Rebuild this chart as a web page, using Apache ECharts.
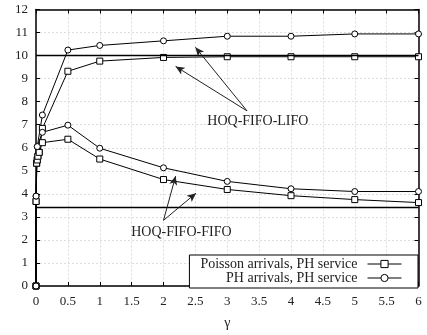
<!DOCTYPE html>
<html>
<head>
<meta charset="utf-8">
<script src="https://cdn.jsdelivr.net/npm/echarts@6/dist/echarts.min.js"></script>
<style>html,body{margin:0;padding:0;background:#fff}#c{width:427px;height:335px}</style>
</head>
<body>
<div id="c"></div>
<script>
// gamma values
const xPoisson = [0, 0.001, 0.01, 0.02, 0.03, 0.05, 0.1, 0.5, 1, 2, 3, 4, 5, 6];
const xPH = [0, 0.001, 0.02, 0.1, 0.5, 1, 2, 3, 4, 5, 6];
// HOQ-FIFO-FIFO
const poissonFifo = [0, 3.67, 5.33, 5.47, 5.63, 5.8, 6.22, 6.37, 5.51, 4.62, 4.19, 3.92, 3.75, 3.62];
const phFifo = [0, 3.9, 6.05, 6.67, 6.98, 5.98, 5.13, 4.54, 4.22, 4.10, 4.10];
// HOQ-FIFO-LIFO
const poissonLifo = [0, 3.67, 5.33, 5.47, 5.63, 5.8, 6.84, 9.32, 9.76, 9.92, 9.95, 9.95, 9.95, 9.95];
const phLifo = [0, 3.9, 6.05, 7.42, 10.24, 10.44, 10.64, 10.84, 10.84, 10.94, 10.94];
// reference levels
const refLevels = [10, 3.4];
const xTicks = { min: 0, max: 6, interval: 0.5 };
const yTicks = { min: 0, max: 12, interval: 1 };
// annotations (data space)
const lifoLabel = { text: 'HOQ-FIFO-LIFO', at: [3.48, 7.13], from: [3.31, 7.6], to: [[2.5, 10.36], [2.19, 9.53]] };
const fifoLabel = { text: 'HOQ-FIFO-FIFO', at: [2.28, 2.32], from: [2.0, 2.85], to: [[2.19, 4.77], [2.51, 4.03]] };
const names = ['Poisson arrivals, PH service', 'PH arrivals, PH service'];

const font = 'Liberation Serif';
const zip = (xs, ys) => xs.map((x, i) => [x, ys[i]]);

function mkSeries(name, xs, ys, sym, size) {
  return {
    name, type: 'line', data: zip(xs, ys), symbol: sym, symbolSize: size,
    showAllSymbol: true,
    lineStyle: { color: '#000', width: 1 },
    itemStyle: { color: '#fff', borderColor: '#000', borderWidth: 1 },
    emphasis: { disabled: true }, animation: false, z: 3
  };
}

const arrowLines = [lifoLabel, fifoLabel].flatMap(a => a.to.map(t => [{ coord: a.from }, { coord: t }]));

const series = [
  mkSeries(names[0], xPoisson, poissonFifo, 'rect', 6),
  mkSeries(names[0], xPoisson, poissonLifo, 'rect', 6),
  mkSeries(names[1], xPH, phFifo, 'circle', 6),
  mkSeries(names[1], xPH, phLifo, 'circle', 6),
  {
    type: 'line', data: [], silent: true, animation: false,
    markLine: {
      silent: true, animation: false, symbol: ['none', 'none'],
      lineStyle: { color: '#000', width: 1.3, type: 'solid' }, label: { show: false },
      data: refLevels.map(v => ({ yAxis: v }))
    }
  },
  {
    type: 'line', data: [], silent: true, animation: false,
    markLine: {
      silent: true, animation: false, symbol: ['none', 'arrow'], symbolSize: [6, 9],
      lineStyle: { color: '#222', width: 1, type: 'solid' }, label: { show: false },
      data: arrowLines
    },
    markPoint: {
      silent: true, animation: false, symbol: 'circle', symbolSize: 0,
      label: { show: true, position: 'inside', color: '#222', fontFamily: font, fontSize: 14 },
      data: [lifoLabel, fifoLabel].map(a => ({ coord: a.at, value: a.text, label: { formatter: a.text } }))
    }
  }
];

const axisCommon = {
  axisLine: { onZero: false, lineStyle: { color: '#000', width: 1.5 } },
  axisTick: { inside: true, length: 4, lineStyle: { color: '#000' } },
  axisLabel: { color: '#222', fontFamily: font, fontSize: 13 },
  splitLine: { show: true, lineStyle: { color: '#ddd', type: [2, 2], width: 1 } }
};

const chart = echarts.init(document.getElementById('c'));
chart.setOption({
  animation: false,
  backgroundColor: '#fff',
  grid: { left: 36, right: 8.5, top: 9.5, bottom: 47, containLabel: false },
  xAxis: [
    Object.assign({ type: 'value', position: 'bottom', min: xTicks.min, max: xTicks.max, interval: xTicks.interval,
      name: 'γ', nameLocation: 'middle', nameGap: 30,
      nameTextStyle: { color: '#222', fontFamily: font, fontSize: 14 } }, axisCommon,
      { axisLabel: Object.assign({}, axisCommon.axisLabel, { margin: 9 }) }),
    { type: 'value', position: 'top', min: xTicks.min, max: xTicks.max, interval: xTicks.interval,
      axisLine: { show: true, onZero: false, lineStyle: { color: '#000', width: 1.5 } },
      axisTick: { show: true, inside: true, length: 4, lineStyle: { color: '#000' } },
      axisLabel: { show: false }, splitLine: { show: false } }
  ],
  yAxis: [
    Object.assign({ type: 'value', position: 'left', min: yTicks.min, max: yTicks.max, interval: yTicks.interval }, axisCommon,
      { axisLabel: Object.assign({}, axisCommon.axisLabel, { margin: 8 }) }),
    { type: 'value', position: 'right', min: yTicks.min, max: yTicks.max, interval: yTicks.interval,
      axisLine: { show: true, onZero: false, lineStyle: { color: '#000', width: 1.5 } },
      axisTick: { show: true, inside: true, length: 4, lineStyle: { color: '#000' } },
      axisLabel: { show: false }, splitLine: { show: false } }
  ],
  legend: {
    data: names, orient: 'vertical', align: 'right', right: 9, bottom: 47,
    backgroundColor: '#fff', borderColor: '#000', borderWidth: 1, borderRadius: 0,
    padding: [2, 16, 3, 11], itemGap: 0, itemWidth: 34, itemHeight: 9,
    lineStyle: { width: 1 }, itemStyle: { borderWidth: 1 },
    textStyle: { color: '#222', fontFamily: font, fontSize: 14, lineHeight: 13, padding: [0, 5, 0, 0] },
    selectedMode: false
  },
  series
});
</script>
</body>
</html>
